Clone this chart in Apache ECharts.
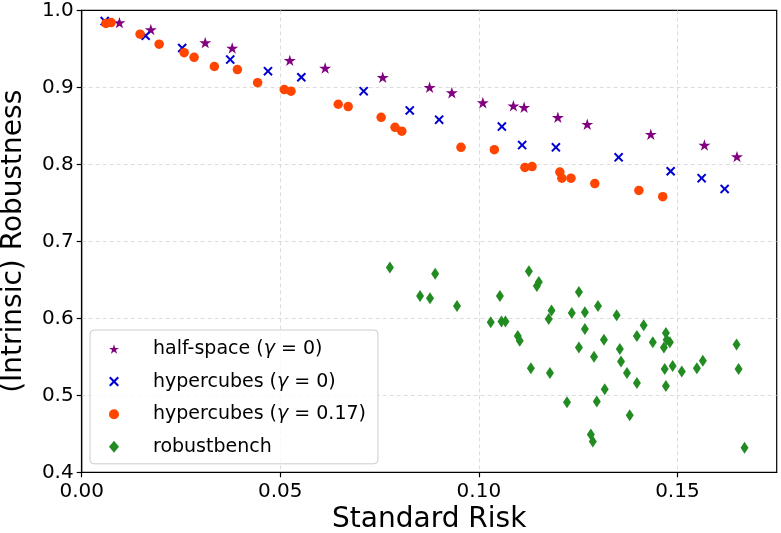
<!DOCTYPE html>
<html>
<head>
<meta charset="utf-8">
<script src="https://cdn.jsdelivr.net/npm/echarts@6/dist/echarts.min.js"></script>
<style>html,body{margin:0;padding:0;background:#fff}#c{width:781px;height:533px}</style>
</head>
<body>
<div id="c"></div>
<script>
// ---- data ----
const halfSpaceX = [0.0095,0.0174,0.0311,0.0379,0.0524,0.0613,0.0758,0.0876,0.0932,0.1010,0.1087,0.1114,0.1199,0.1273,0.1433,0.1568,0.1650];
const halfSpaceY = [0.984,0.975,0.958,0.951,0.935,0.925,0.913,0.900,0.893,0.880,0.876,0.874,0.861,0.852,0.839,0.825,0.810];

const cubes0X = [0.0058,0.0161,0.0253,0.0374,0.0469,0.0553,0.0710,0.0826,0.0900,0.1058,0.1109,0.1194,0.1352,0.1483,0.1561,0.1619];
const cubes0Y = [0.986,0.967,0.951,0.936,0.921,0.913,0.895,0.870,0.858,0.849,0.825,0.822,0.809,0.791,0.782,0.768];

const cubes17X = [0.0061,0.0074,0.0147,0.0195,0.0258,0.0283,0.0334,0.0392,0.0443,0.0510,0.0527,0.0646,0.0671,0.0754,0.0789,0.0806,0.0955,0.1039,0.1116,0.1134,0.1204,0.1209,0.1232,0.1292,0.1403,0.1463];
const cubes17Y = [0.983,0.984,0.969,0.956,0.945,0.939,0.927,0.923,0.906,0.897,0.895,0.878,0.875,0.861,0.848,0.843,0.822,0.819,0.796,0.797,0.790,0.782,0.782,0.775,0.766,0.758];

const benchX = [0.0776,0.0890,0.0852,0.0877,0.0945,0.1053,0.1030,0.1057,0.1067,0.1098,0.1103,0.1126,0.1146,0.1151,0.1131,0.1179,0.1176,0.1183,0.1222,0.1234,0.1252,0.1267,0.1267,0.1252,0.1300,0.1315,0.1290,0.1297,0.1317,0.1282,0.1287,0.1347,0.1355,0.1358,0.1373,0.1380,0.1398,0.1415,0.1398,0.1438,0.1471,0.1473,0.1481,0.1466,0.1468,0.1488,0.1471,0.1511,0.1549,0.1564,0.1649,0.1654,0.1669];
const benchY = [0.666,0.658,0.629,0.626,0.616,0.629,0.595,0.596,0.596,0.577,0.571,0.661,0.642,0.647,0.535,0.529,0.599,0.610,0.491,0.607,0.634,0.608,0.586,0.562,0.616,0.572,0.550,0.492,0.508,0.449,0.440,0.604,0.560,0.544,0.529,0.474,0.577,0.591,0.516,0.569,0.581,0.572,0.569,0.562,0.534,0.538,0.512,0.531,0.535,0.545,0.566,0.534,0.432];

const seriesNames = ['half-space (γ = 0)', 'hypercubes (γ = 0)', 'hypercubes (γ = 0.17)', 'robustbench'];
const xTicks = [0, 0.05, 0.10, 0.15];
const yTicks = [0.4, 0.5, 0.6, 0.7, 0.8, 0.9, 1.0];

// ---- chart ----
const zip = (xs, ys) => xs.map((x, i) => [x, ys[i]]);
const STAR = 'path://M50,0L61.23,34.55L97.55,34.55L68.17,55.9L79.39,90.45L50,69.1L20.61,90.45L31.83,55.9L2.45,34.55L38.77,34.55Z';
const XMARK = 'path://M0,15L15,0L50,35L85,0L100,15L65,50L100,85L85,100L50,65L15,100L0,85L35,50Z';
const FONT = 'DejaVu Sans';

const chart = echarts.init(document.getElementById('c'), null, {renderer: 'canvas'});
const splitLine = {show: true, showMinLine: false, showMaxLine: false, lineStyle: {color: '#d3d3d3', width: 0.8, type: [4, 3]}};
chart.setOption({
  animation: false,
  backgroundColor: '#fff',
  grid: {left: 81.7, top: 10.3, right: 4.3, bottom: 60.7, outerBoundsMode: 'none', containLabel: false,
    show: true, borderColor: '#000', borderWidth: 1.2, backgroundColor: 'transparent'},
  xAxis: {
    type: 'value', min: 0, max: 0.175, interval: 0.05,
    name: 'Standard Risk', nameLocation: 'middle', nameGap: 32,
    nameTextStyle: {fontFamily: FONT, fontSize: 28, color: '#000'},
    axisLine: {show: true, onZero: false, lineStyle: {color: '#000', width: 1.2}},
    axisTick: {show: true, length: 5, inside: false, lineStyle: {color: '#000', width: 1.2}},
    axisLabel: {fontFamily: FONT, fontSize: 20, color: '#000', margin: 9, showMaxLabel: false,
      formatter: v => xTicks.some(t => Math.abs(t - v) < 1e-9) ? v.toFixed(2) : ''},
    splitLine: splitLine
  },
  yAxis: {
    type: 'value', min: 0.4, max: 1.0, interval: 0.1,
    name: '(Intrinsic) Robustness', nameLocation: 'middle', nameGap: 54, nameRotate: 90,
    nameTextStyle: {fontFamily: FONT, fontSize: 28, color: '#000'},
    axisLine: {show: true, onZero: false, lineStyle: {color: '#000', width: 1.2}},
    axisTick: {show: true, length: 5, inside: false, lineStyle: {color: '#000', width: 1.2}},
    axisLabel: {fontFamily: FONT, fontSize: 20, color: '#000', margin: 8,
      formatter: v => yTicks.some(t => Math.abs(t - v) < 1e-9) ? v.toFixed(1) : ''},
    splitLine: splitLine
  },
  legend: {
    orient: 'vertical', left: 90, top: 330,
    padding: [9, 12, 7, 19],
    itemWidth: 10, itemHeight: 12, itemGap: 12.6,
    backgroundColor: 'rgba(255,255,255,0.8)', borderColor: '#cccccc', borderWidth: 1, borderRadius: 4,
    textStyle: {fontFamily: FONT, fontSize: 19, color: '#000', lineHeight: 20, padding: [0, 0, 0, 29],
      rich: {g: {fontFamily: FONT, fontSize: 19, fontStyle: 'italic', color: '#000'}}},
    formatter: name => name.replace('γ', '{g|γ}'),
    data: seriesNames
  },
  series: [
    {name: seriesNames[0], type: 'scatter', data: zip(halfSpaceX, halfSpaceY), symbol: STAR, symbolKeepAspect: true, symbolSize: 12, itemStyle: {color: '#800080', opacity: 1}},
    {name: seriesNames[1], type: 'scatter', data: zip(cubes0X, cubes0Y), symbol: XMARK, symbolSize: 9.5, itemStyle: {color: '#0000d0', opacity: 1}},
    {name: seriesNames[2], type: 'scatter', data: zip(cubes17X, cubes17Y), symbol: 'circle', symbolSize: 9.5, itemStyle: {color: '#ff4500', opacity: 1}},
    {name: seriesNames[3], type: 'scatter', data: zip(benchX, benchY), symbol: 'diamond', symbolSize: [8, 12], itemStyle: {color: '#228b22', opacity: 1}}
  ]
});
</script>
</body>
</html>
